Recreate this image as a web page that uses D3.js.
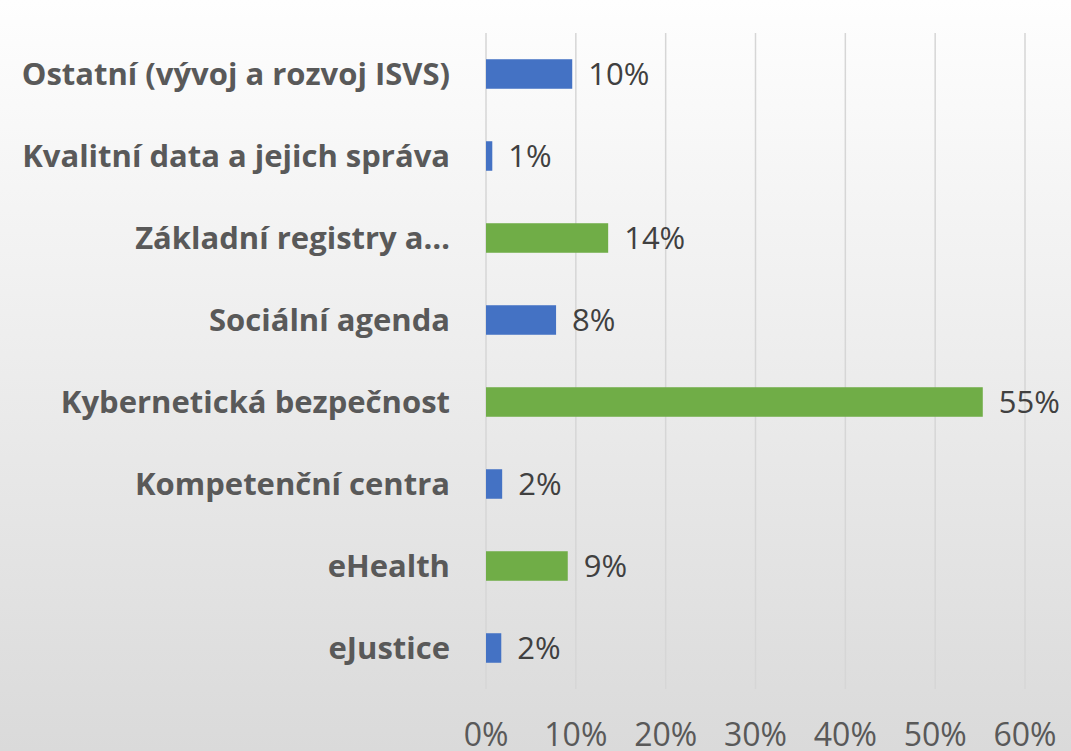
<!DOCTYPE html>
<html>
<head>
<meta charset="utf-8">
<script src="https://cdn.jsdelivr.net/npm/d3@7"></script>
<style>
  html, body { margin: 0; padding: 0; }
  svg { display: block; }
</style>
</head>
<body>
<svg id="chart" width="1071" height="751"></svg>
<script>
var categories = [
  'Ostatní (vývoj a rozvoj ISVS)',
  'Kvalitní data a jejich správa',
  'Základní registry a…',
  'Sociální agenda',
  'Kybernetická bezpečnost',
  'Kompetenční centra',
  'eHealth',
  'eJustice'
];
var values = [9.6, 0.7, 13.6, 7.8, 55.3, 1.8, 9.1, 1.7];
var valueLabels = ['10%', '1%', '14%', '8%', '55%', '2%', '9%', '2%'];
var highlighted = [false, false, true, false, true, false, true, false];
var xTicks = [0, 10, 20, 30, 40, 50, 60];

var width = 1071, height = 751;
var margin = { top: 33, right: 46, bottom: 62, left: 486 };
var font = '"Open Sans", sans-serif';

var svg = d3.select('#chart');

var grad = svg.append('defs').append('linearGradient')
  .attr('id', 'bg').attr('x1', 0).attr('y1', 0).attr('x2', 0).attr('y2', 1);
grad.append('stop').attr('offset', '0%').attr('stop-color', '#fefefe');
grad.append('stop').attr('offset', '100%').attr('stop-color', '#dadada');

svg.append('rect').attr('width', width).attr('height', height).attr('fill', 'url(#bg)');

var xScale = d3.scaleLinear().domain([0, 60]).range([margin.left, width - margin.right]);
var yScale = d3.scaleBand().domain(categories)
  .range([margin.top, height - margin.bottom]).paddingInner(0.64).paddingOuter(0.32);

// gridlines
svg.append('g').selectAll('line').data(xTicks).enter()
  .append('line')
  .attr('x1', function(d){return xScale(d)})
  .attr('x2', function(d){return xScale(d)})
  .attr('y1', margin.top)
  .attr('y2', height - margin.bottom)
  .attr('stroke', '#d6d6d6')
  .attr('stroke-width', 1.5);

// x tick labels (cut by the bottom edge, as in the original)
svg.append('g').selectAll('text').data(xTicks).enter()
  .append('text')
  .attr('x', function(d){return xScale(d)})
  .attr('y', 746)
  .attr('text-anchor', 'middle')
  .attr('font-family', font)
  .attr('font-size', 32)
  .attr('fill', '#595959')
  .text(function(d){return d + '%'});

// bars
svg.append('g').selectAll('rect').data(values).enter()
  .append('rect')
  .attr('x', xScale(0))
  .attr('y', function(d, i){return yScale(categories[i])})
  .attr('width', function(d){return xScale(d) - xScale(0)})
  .attr('height', yScale.bandwidth())
  .attr('fill', function(d, i){return highlighted[i] ? '#70ad47' : '#4472c4'});

// value labels
svg.append('g').selectAll('text').data(values).enter()
  .append('text')
  .attr('x', function(d){return xScale(d) + 16})
  .attr('y', function(d, i){return yScale(categories[i]) + yScale.bandwidth() / 2})
  .attr('dy', '0.36em')
  .attr('font-family', font)
  .attr('font-size', 31)
  .attr('fill', '#404040')
  .text(function(d, i){return valueLabels[i]});

// category labels
svg.append('g').selectAll('text').data(categories).enter()
  .append('text')
  .attr('x', 450)
  .attr('y', function(d){return yScale(d) + yScale.bandwidth() / 2})
  .attr('dy', '0.36em')
  .attr('text-anchor', 'end')
  .attr('font-family', font)
  .attr('font-weight', 'bold')
  .attr('font-size', 31)
  .attr('fill', '#595959')
  .text(function(d){return d});
</script>
</body>
</html>
